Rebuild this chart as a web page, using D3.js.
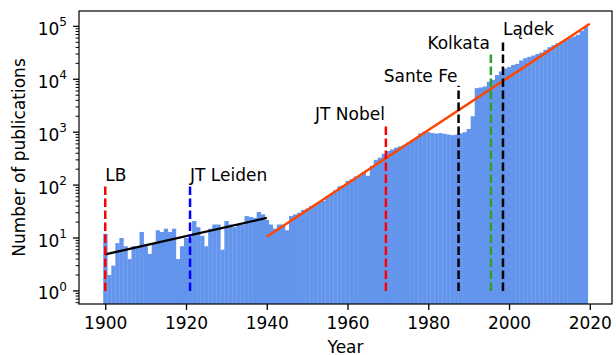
<!DOCTYPE html>
<html>
<head>
<meta charset="utf-8">
<script src="https://cdn.jsdelivr.net/npm/d3@7"></script>
<style>
  body { margin: 0; background: #fff; }
  text { font-family: "DejaVu Sans", sans-serif; fill: #000; }
</style>
</head>
<body>
<script>
// publications per year, 1900 - 2019
var firstYear = 1900;
var counts = [
  12, 2, 3, 8, 10, 7, 4, 7, 7, 13,
  7, 5, 8, 14, 13, 15, 13, 15, 4, 7,
  10, 10, 21, 16, 11, 7, 15, 18, 18, 6,
  21, 18, 16, 18, 18, 26, 25, 24, 31, 28,
  22, 18, 15, 18, 18, 14, 26, 28, 30, 34,
  36, 40, 42, 48, 50, 62, 68, 80, 95, 100,
  120, 128, 145, 150, 175, 150, 230, 300, 330, 390,
  440, 470, 510, 540, 575, 640, 700, 780, 950, 1025,
  1000, 960, 940, 960, 930, 900, 880, 900, 950, 1000,
  1150, 2000, 6800, 7000, 7300, 9000, 9750, 12000, 14000, 16000,
  17000, 18600, 19500, 22600, 25000, 26500, 28100, 30000, 32000, 36000,
  40400, 44000, 48000, 51700, 55000, 59700, 64000, 69000, 82000, 100000
];

// fitted growth lines [year, value]
var fitEarly = [[1900, 4.9], [1940, 23.9]];
var fitLate = [[1940, 10.6], [2020, 112000]];

// event markers
var eventNames = ["LB", "JT Leiden", "JT Nobel", "Sante Fe", "Kolkata", "Lądek"];
var eventYears = [1900, 1921, 1969.5, 1987.5, 1995.5, 1998.5];
var eventTops = [100, 100, 1430, 7500, 31000, 57000];

var xTicks = [1900, 1920, 1940, 1960, 1980, 2000, 2020];
var yTicks = [0, 1, 2, 3, 4, 5];

// styles
var eventColor = {"LB": "#ff0000", "JT Leiden": "#0000ff", "JT Nobel": "#ff0000",
  "Sante Fe": "#000000", "Kolkata": "#2ca02c", "Lądek": "#000000"};
var eventAnchor = {"LB": "start", "JT Leiden": "start", "JT Nobel": "end",
  "Sante Fe": "end", "Kolkata": "end", "Lądek": "start"};

var W = 616, H = 355;
var margin = {top: 11, right: 4, bottom: 51, left: 79};
var w = W - margin.left - margin.right;
var h = H - margin.top - margin.bottom;

var svg = d3.select("body").append("svg")
  .attr("width", W)
  .attr("height", H);

var g = svg.append("g")
  .attr("transform", "translate(" + margin.left + "," + margin.top + ")");

var x = d3.scaleLinear().domain([1893.5, 2025.5]).range([0, w]);
var y = d3.scaleLog().domain([Math.pow(10, -0.247), Math.pow(10, 5.29)]).range([h, 0]);

var data = counts.map(function(c, i) { return {year: firstYear + i, n: c}; });

// bars
g.selectAll("rect.bar")
  .data(data)
  .enter()
  .append("rect")
  .attr("class", "bar")
  .attr("x", function(d) { return x(d.year - 0.5); })
  .attr("width", function(d) { return x(d.year + 0.5) - x(d.year - 0.5) + 0.3; })
  .attr("y", function(d) { return y(d.n); })
  .attr("height", function(d) { return h - y(d.n); })
  .style("fill", "#6495ed");

// fit lines
var line = d3.line()
  .x(function(d) { return x(d[0]); })
  .y(function(d) { return y(d[1]); });

g.append("path").datum(fitEarly)
  .attr("d", line)
  .style("fill", "none")
  .style("stroke", "#000")
  .style("stroke-width", 2.3);

g.append("path").datum(fitLate)
  .attr("d", line)
  .style("fill", "none")
  .style("stroke", "#ff4500")
  .style("stroke-width", 2.5);

// event markers
var events = eventNames.map(function(name, i) {
  return {name: name, year: eventYears[i], top: eventTops[i]};
});

g.selectAll("line.event")
  .data(events)
  .enter()
  .append("line")
  .attr("class", "event")
  .attr("x1", function(d) { return x(d.year); })
  .attr("x2", function(d) { return x(d.year); })
  .attr("y1", y(1))
  .attr("y2", function(d) { return y(d.top); })
  .style("stroke", function(d) { return eventColor[d.name]; })
  .style("stroke-width", 2.5)
  .style("stroke-dasharray", "8.5,3.5");

g.selectAll("text.event")
  .data(events)
  .enter()
  .append("text")
  .attr("class", "event")
  .attr("x", function(d) { return x(d.year) + (eventAnchor[d.name] == "end" ? -1 : 0); })
  .attr("y", function(d) { return y(d.top) - 4; })
  .style("text-anchor", function(d) { return eventAnchor[d.name]; })
  .style("font-size", "17px")
  .text(function(d) { return d.name; });

// x axis
var xAxis = d3.axisBottom(x)
  .tickValues(xTicks)
  .tickFormat(d3.format("d"))
  .tickSize(6)
  .tickPadding(4);

var gx = g.append("g")
  .attr("transform", "translate(0," + h + ")")
  .call(xAxis);
gx.select(".domain").remove();
gx.selectAll("line").style("stroke", "#000").style("stroke-width", 1.3);
gx.selectAll("text").style("font-size", "17px").attr("y", 13).attr("dy", "0.71em");

// y axis, major ticks
var gy = g.append("g");
gy.selectAll("line.major")
  .data(yTicks)
  .enter()
  .append("line")
  .attr("x1", -6).attr("x2", 0)
  .attr("y1", function(d) { return y(Math.pow(10, d)); })
  .attr("y2", function(d) { return y(Math.pow(10, d)); })
  .style("stroke", "#000")
  .style("stroke-width", 1.3);

// minor ticks
var minor = [];
[-1, 0, 1, 2, 3, 4, 5].forEach(function(e) {
  for (var k = 2; k < 10; k++) {
    var v = k * Math.pow(10, e);
    if (v > y.domain()[0] && v < y.domain()[1]) minor.push(v);
  }
});
gy.selectAll("line.minor")
  .data(minor)
  .enter()
  .append("line")
  .attr("x1", -3.4).attr("x2", 0)
  .attr("y1", function(d) { return y(d); })
  .attr("y2", function(d) { return y(d); })
  .style("stroke", "#000")
  .style("stroke-width", 1);

var ylab = gy.selectAll("text.ytick")
  .data(yTicks)
  .enter()
  .append("text")
  .attr("class", "ytick")
  .attr("x", -12)
  .attr("y", function(d) { return y(Math.pow(10, d)) + 8.5; })
  .style("text-anchor", "end")
  .style("font-size", "17px");
ylab.append("tspan").text("10");
ylab.append("tspan")
  .attr("dy", -8.5)
  .style("font-size", "12px")
  .text(function(d) { return d; });

// frame
g.append("rect")
  .attr("width", w)
  .attr("height", h)
  .style("fill", "none")
  .style("stroke", "#000")
  .style("stroke-width", 1.2);

// axis labels
svg.append("text")
  .attr("x", margin.left + w / 2)
  .attr("y", 353)
  .style("text-anchor", "middle")
  .style("font-size", "17px")
  .text("Year");

svg.append("text")
  .attr("transform", "translate(25," + (margin.top + h / 2) + ") rotate(-90)")
  .style("text-anchor", "middle")
  .style("font-size", "17px")
  .text("Number of publications");
</script>
</body>
</html>
